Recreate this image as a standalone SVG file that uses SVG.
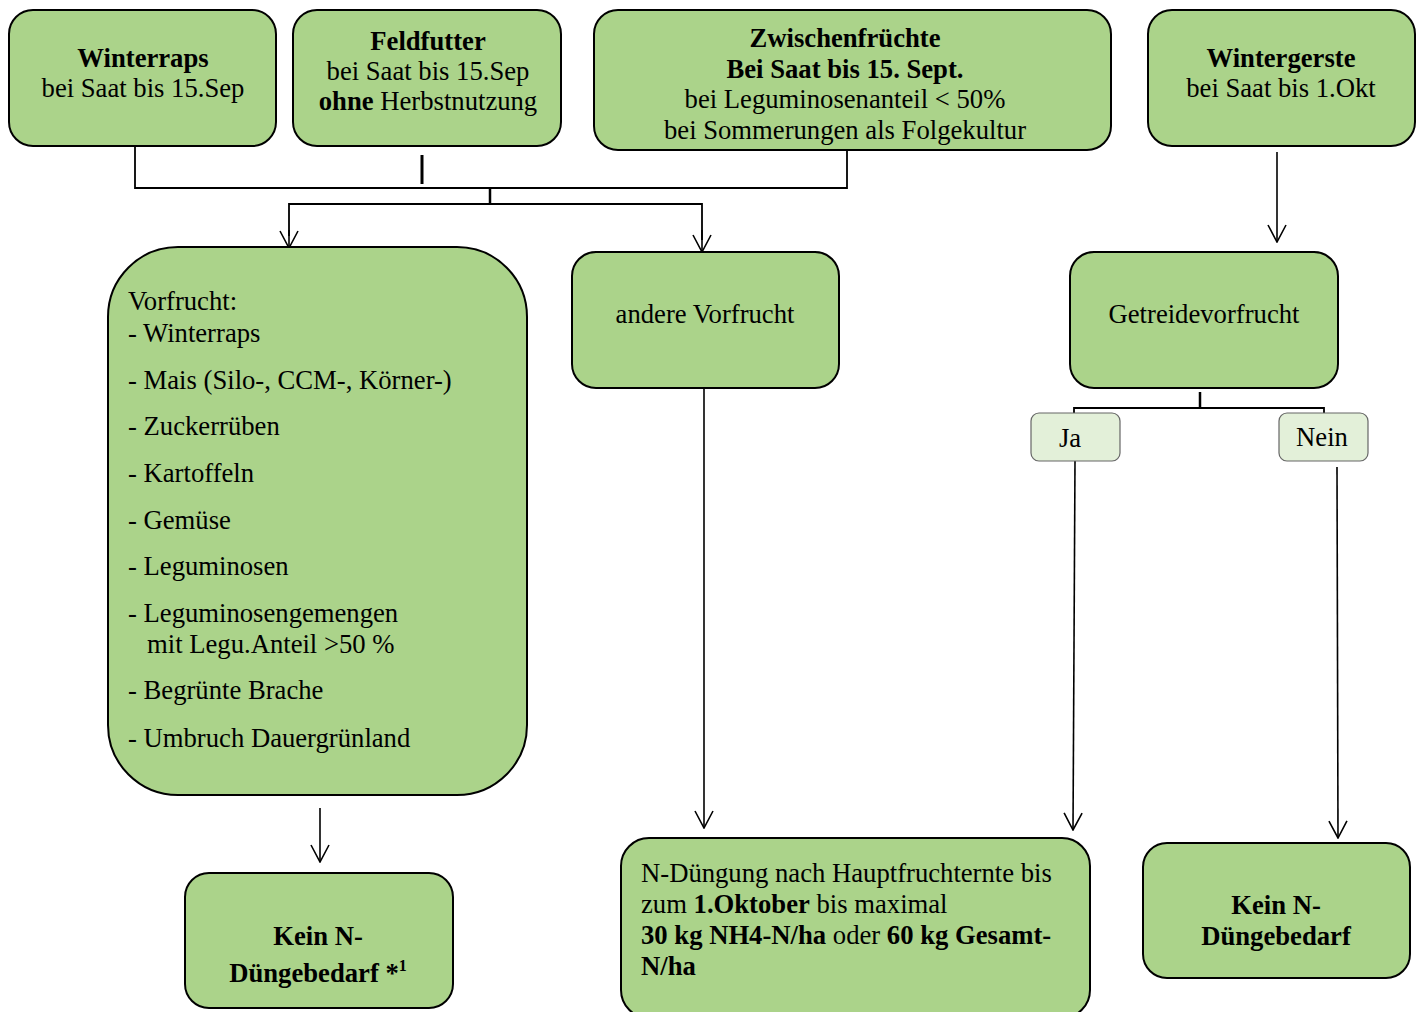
<svg xmlns="http://www.w3.org/2000/svg" width="1421" height="1012" viewBox="0 0 1421 1012">
<defs>
<marker id="arr" markerWidth="20" markerHeight="20" viewBox="-19 -10 20 20" refX="0" refY="0" markerUnits="userSpaceOnUse" orient="auto">
<polyline points="-17,-9 0,0 -17,9" fill="none" stroke="#000" stroke-width="1.6"/>
</marker>
</defs>
<style>
.box{fill:#abd38a;stroke:#000;stroke-width:2}
.lbox{fill:#e3f0d9;stroke:#666;stroke-width:1.2}
text{font-family:'Liberation Serif','Times New Roman',serif;font-size:26.67px;fill:#000}
.c{text-anchor:middle}
.b{font-weight:bold}
.ln{fill:none;stroke:#000;stroke-width:1.8}
.ar{fill:none;stroke:#000;stroke-width:1.6;marker-end:url(#arr)}
</style>
<g id="connectors">
<polyline class="ln" points="135,146 135,188 847,188 847,150"/>
<line x1="422" y1="155" x2="422" y2="184" stroke="#000" stroke-width="3"/>
<line x1="490" y1="188" x2="490" y2="204" stroke="#000" stroke-width="2.5"/>
<polyline class="ln" points="289,236 289,204 702,204 702,240"/>
<line class="ar" x1="289" y1="230" x2="289" y2="248"/>
<line class="ar" x1="702" y1="230" x2="702" y2="252"/>
<line class="ar" x1="1277" y1="152" x2="1277" y2="242"/>
<line x1="1200" y1="392" x2="1200" y2="408" stroke="#000" stroke-width="2.5"/>
<polyline class="ln" points="1074,413 1074,408 1324,408 1324,413"/>
<line class="ar" x1="1075" y1="461" x2="1073" y2="830"/>
<line class="ar" x1="1337" y1="467" x2="1338" y2="838"/>
<line class="ar" x1="704" y1="388" x2="704" y2="828"/>
<line class="ar" x1="320" y1="808" x2="320" y2="862"/>
</g>
<g id="winterraps">
<rect class="box" x="9" y="10" width="267" height="136" rx="24"/>
<text class="c b" x="143" y="67">Winterraps</text>
<text class="c" x="143" y="97">bei Saat bis 15.Sep</text>
</g>
<g id="feldfutter">
<rect class="box" x="293" y="10" width="268" height="136" rx="24"/>
<text class="c b" x="428" y="50">Feldfutter</text>
<text class="c" x="428" y="80">bei Saat bis 15.Sep</text>
<text class="c" x="428" y="110"><tspan class="b">ohne</tspan> Herbstnutzung</text>
</g>
<g id="zwischenfruechte">
<rect class="box" x="594" y="10" width="517" height="140" rx="24"/>
<text class="c b" x="845" y="47">Zwischenfrüchte</text>
<text class="c b" x="845" y="78">Bei Saat bis 15. Sept.</text>
<text class="c" x="845" y="108">bei Leguminosenanteil &lt; 50%</text>
<text class="c" x="845" y="139">bei Sommerungen als Folgekultur</text>
</g>
<g id="wintergerste">
<rect class="box" x="1148" y="10" width="267" height="136" rx="24"/>
<text class="c b" x="1281" y="67">Wintergerste</text>
<text class="c" x="1281" y="97">bei Saat bis 1.Okt</text>
</g>
<g id="vorfrucht">
<rect class="box" x="108" y="247" width="419" height="548" rx="70"/>
<text x="128" y="310">Vorfrucht:</text>
<text x="128" y="342">- Winterraps</text>
<text x="128" y="389">- Mais (Silo-, CCM-, Körner-)</text>
<text x="128" y="435">- Zuckerrüben</text>
<text x="128" y="482">- Kartoffeln</text>
<text x="128" y="529">- Gemüse</text>
<text x="128" y="575">- Leguminosen</text>
<text x="128" y="622">- Leguminosengemengen</text>
<text x="147" y="653">mit Legu.Anteil &gt;50 %</text>
<text x="128" y="699">- Begrünte Brache</text>
<text x="128" y="747">- Umbruch Dauergrünland</text>
</g>
<g id="andere-vorfrucht">
<rect class="box" x="572" y="252" width="267" height="136" rx="24"/>
<text class="c" x="705" y="323">andere Vorfrucht</text>
</g>
<g id="getreidevorfrucht">
<rect class="box" x="1070" y="252" width="268" height="136" rx="24"/>
<text class="c" x="1204" y="323">Getreidevorfrucht</text>
</g>
<g id="ja">
<rect class="lbox" x="1031" y="413" width="89" height="48" rx="8"/>
<text class="c" x="1070" y="447">Ja</text>
</g>
<g id="nein">
<rect class="lbox" x="1279" y="413" width="89" height="48" rx="8"/>
<text class="c" x="1322" y="446">Nein</text>
</g>
<g id="kein-links">
<rect class="box" x="185" y="873" width="268" height="135" rx="24"/>
<text class="c b" x="318" y="945">Kein N-</text>
<text class="c b" x="318" y="982">Düngebedarf *<tspan font-size="16" dy="-11">1</tspan></text>
</g>
<g id="n-duengung">
<rect class="box" x="621" y="838" width="469" height="180" rx="28"/>
<text x="641" y="882">N-Düngung nach Hauptfruchternte bis</text>
<text x="641" y="913">zum <tspan class="b">1.Oktober</tspan> bis maximal</text>
<text x="641" y="944"><tspan class="b">30 kg NH4-N/ha</tspan> oder <tspan class="b">60 kg Gesamt-</tspan></text>
<text class="b" x="641" y="975">N/ha</text>
</g>
<g id="kein-rechts">
<rect class="box" x="1143" y="843" width="267" height="135" rx="24"/>
<text class="c b" x="1276" y="914">Kein N-</text>
<text class="c b" x="1276" y="945">Düngebedarf</text>
</g>
</svg>
